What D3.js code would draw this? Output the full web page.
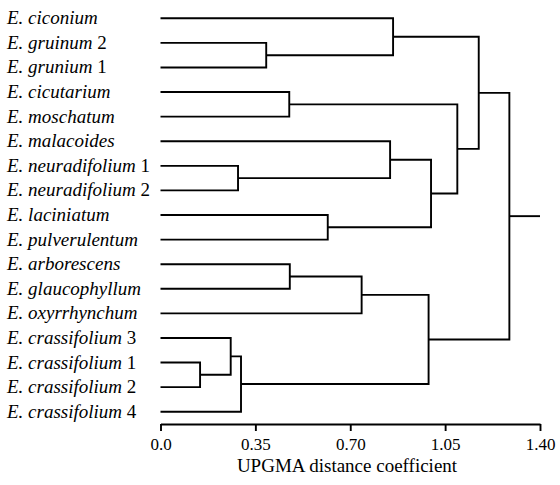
<!DOCTYPE html>
<html>
<head>
<meta charset="utf-8">
<script src="https://cdn.jsdelivr.net/npm/d3@7"></script>
<style>
    body { margin: 0; background: #fff; }
    svg { display: block; }
</style>
</head>
<body>
<div id="chart"></div>
<script>
;(function () {
    // leaf names: italic part + optional upright number
    const leaves = [
        ["E. ciconium", ""],
        ["E. gruinum", "2"],
        ["E. grunium", "1"],
        ["E. cicutarium", ""],
        ["E. moschatum", ""],
        ["E. malacoides", ""],
        ["E. neuradifolium", "1"],
        ["E. neuradifolium", "2"],
        ["E. laciniatum", ""],
        ["E. pulverulentum", ""],
        ["E. arborescens", ""],
        ["E. glaucophyllum", ""],
        ["E. oxyrrhynchum", ""],
        ["E. crassifolium", "3"],
        ["E. crassifolium", "1"],
        ["E. crassifolium", "2"],
        ["E. crassifolium", "4"]
    ]

    // merges: [child a, child b, distance]; leaves are 0..16, each merge gets the next id
    const merges = [
        [14, 15, 0.146],  // 17
        [13, 17, 0.259],  // 18
        [6, 7, 0.286],    // 19
        [18, 16, 0.297],  // 20
        [1, 2, 0.39],     // 21
        [3, 4, 0.475],    // 22
        [10, 11, 0.477],  // 23
        [8, 9, 0.617],    // 24
        [23, 12, 0.742],  // 25
        [5, 19, 0.847],   // 26
        [0, 21, 0.858],   // 27
        [25, 20, 0.989],  // 28
        [26, 24, 0.998],  // 29
        [22, 29, 1.095],  // 30
        [27, 30, 1.174],  // 31
        [31, 28, 1.287]   // 32 root
    ]
    const rootEnd = 1.40

    const tickValues = [0, 0.35, 0.70, 1.05, 1.40]
    const tickLabels = ["0.0", "0.35", "0.70", "1.05", "1.40"]
    const axisTitle = "UPGMA distance coefficient"

    const width = 560
    const height = 485
    const serif = "Liberation Serif"

    const svg = d3.select("#chart")
        .append("svg")
        .attr("width", width)
        .attr("height", height)

    const xPositionScale = d3.scaleLinear().domain([0, 1.40]).range([160.5, 540])
    const yPositionScale = d3.scalePoint()
        .domain(d3.range(leaves.length))
        .range([18.3, 411.7])

    // node positions
    const nodes = leaves.map((d, i) => ({ x: 0, y: yPositionScale(i) }))
    merges.forEach(function (m) {
        nodes.push({ x: m[2], y: (nodes[m[0]].y + nodes[m[1]].y) / 2, children: [m[0], m[1]] })
    })

    const lines = svg.append("g")
        .attr("fill", "none")
        .attr("stroke", "#000")
        .attr("stroke-width", 1.9)

    nodes.forEach(function (n) {
        if (!n.children) return
        const a = nodes[n.children[0]]
        const b = nodes[n.children[1]]
        const px = xPositionScale(n.x)
        const path = d3.path()
        path.moveTo(xPositionScale(a.x), a.y)
        path.lineTo(px, a.y)
        path.lineTo(px, b.y)
        path.lineTo(xPositionScale(b.x), b.y)
        lines.append("path").attr("d", path.toString())
    })

    const root = nodes[nodes.length - 1]
    lines.append("line")
        .attr("x1", xPositionScale(root.x))
        .attr("x2", xPositionScale(rootEnd))
        .attr("y1", root.y)
        .attr("y2", root.y)

    // leaf labels
    const labels = svg.append("g")
        .selectAll("text")
        .data(leaves)
        .join("text")
        .style("font-family", serif)
        .style("font-size", "19px")
        .attr("x", 7)
        .attr("y", (d, i) => yPositionScale(i) + 6)
    labels.append("tspan")
        .style("font-style", "italic")
        .text(d => d[0])
    labels.filter(d => d[1] !== "")
        .append("tspan")
        .text(d => " " + d[1])

    // x axis
    const xAxisGenerator = d3.axisBottom(xPositionScale)
        .tickValues(tickValues)
        .tickFormat((d, i) => tickLabels[i])
        .tickSize(7)
        .tickSizeOuter(0)
        .tickPadding(7)
    const xAxis = svg.append("g")
        .attr("class", "axis x-axis")
        .attr("transform", "translate(0,424)")
        .call(xAxisGenerator)
    xAxis.selectAll("path, line").attr("stroke", "#000").attr("stroke-width", 1.9)
    xAxis.selectAll("text")
        .attr("fill", "#000")
        .style("font-family", serif)
        .style("font-size", "17px")

    svg.append("text")
        .attr("x", 347)
        .attr("y", 472)
        .attr("text-anchor", "middle")
        .style("font-family", serif)
        .style("font-size", "19px")
        .text(axisTitle)
})()
</script>
</body>
</html>
